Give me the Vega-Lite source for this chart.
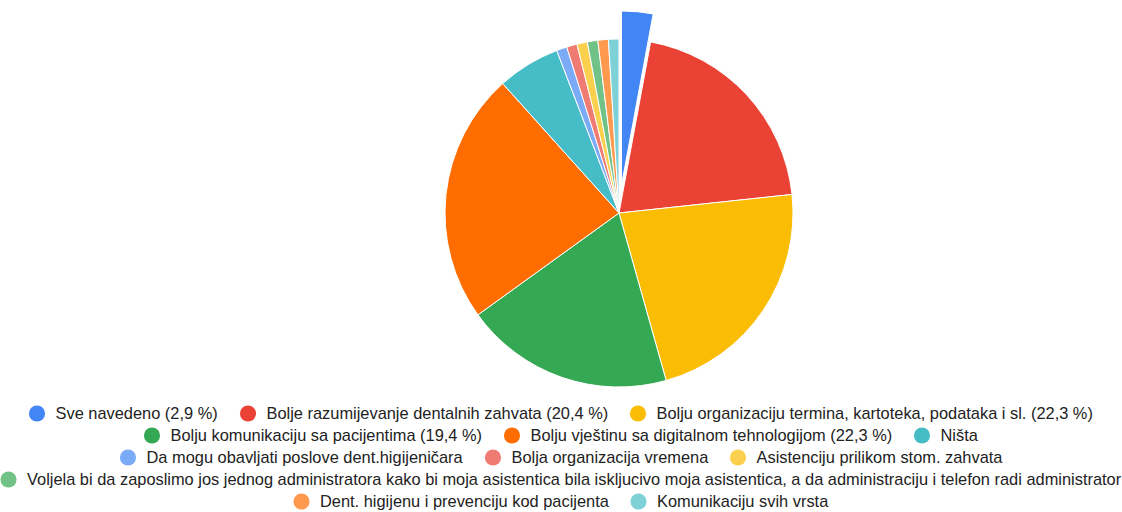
{
  "$schema": "https://vega.github.io/schema/vega-lite/v6.json",
  "width": 1122,
  "height": 348,
  "autosize": "none",
  "padding": {"top": 39, "left": 0, "right": 0, "bottom": 125},
  "background": "white",
  "data": {
    "values": [
      {"order": 1, "label": "Sve navedeno (2,9 %)", "n": 3},
      {"order": 2, "label": "Bolje razumijevanje dentalnih zahvata (20,4 %)", "n": 21},
      {"order": 3, "label": "Bolju organizaciju termina, kartoteka, podataka i sl. (22,3 %)", "n": 23},
      {"order": 4, "label": "Bolju komunikaciju sa pacijentima (19,4 %)", "n": 20},
      {"order": 5, "label": "Bolju vještinu sa digitalnom tehnologijom (22,3 %)", "n": 24},
      {"order": 6, "label": "Ništa", "n": 6},
      {"order": 7, "label": "Da mogu obavljati poslove dent.higijeničara", "n": 1},
      {"order": 8, "label": "Bolja organizacija vremena", "n": 1},
      {"order": 9, "label": "Asistenciju prilikom stom. zahvata", "n": 1},
      {"order": 10, "label": "Voljela bi da zaposlimo jos jednog administratora kako bi moja asistentica bila iskljucivo moja asistentica, a da administraciju i telefon radi administrator", "n": 1},
      {"order": 11, "label": "Dent. higijenu i prevenciju kod pacijenta", "n": 1},
      {"order": 12, "label": "Komunikaciju svih vrsta", "n": 1}
    ]
  },
  "transform": [
    {"stack": "n", "groupby": [], "sort": [{"field": "order", "order": "ascending"}], "as": ["s0", "s1"]}
  ],
  "encoding": {
    "theta": {"field": "s0", "type": "quantitative", "scale": {"domain": [0, 103]}},
    "theta2": {"field": "s1"}
  },
  "layer": [
    {
      "transform": [{"filter": {"field": "order", "oneOf": [1, 2, 3]}}],
      "encoding": {
        "color": {
          "field": "label", "type": "nominal",
          "sort": {"field": "order"},
          "scale": {
            "domain": ["Sve navedeno (2,9 %)", "Bolje razumijevanje dentalnih zahvata (20,4 %)", "Bolju organizaciju termina, kartoteka, podataka i sl. (22,3 %)"],
            "range": ["#4285F4", "#EA4335", "#FBBC04"]
          },
          "legend": {"title": null}
        }
      },
      "layer": [
        {
          "transform": [{"filter": {"field": "order", "equal": 1}}],
          "mark": {"type": "arc", "radius": 174, "stroke": "white", "strokeWidth": 1, "xOffset": 60.5, "yOffset": -28}
        },
        {
          "transform": [{"filter": {"field": "order", "oneOf": [2, 3]}}],
          "mark": {"type": "arc", "radius": 174, "stroke": "white", "strokeWidth": 1, "xOffset": 58}
        }
      ]
    },
    {
      "transform": [{"filter": {"field": "order", "oneOf": [4, 5, 6]}}],
      "mark": {"type": "arc", "radius": 174, "stroke": "white", "strokeWidth": 1, "xOffset": 58},
      "encoding": {
        "color": {
          "field": "label", "type": "nominal",
          "sort": {"field": "order"},
          "scale": {
            "domain": ["Bolju komunikaciju sa pacijentima (19,4 %)", "Bolju vještinu sa digitalnom tehnologijom (22,3 %)", "Ništa"],
            "range": ["#34A853", "#FF6D01", "#46BDC6"]
          },
          "legend": {"title": null}
        }
      }
    },
    {
      "transform": [{"filter": {"field": "order", "oneOf": [7, 8, 9]}}],
      "mark": {"type": "arc", "radius": 174, "stroke": "white", "strokeWidth": 1, "xOffset": 58},
      "encoding": {
        "color": {
          "field": "label", "type": "nominal",
          "sort": {"field": "order"},
          "scale": {
            "domain": ["Da mogu obavljati poslove dent.higijeničara", "Bolja organizacija vremena", "Asistenciju prilikom stom. zahvata"],
            "range": ["#7BAAF7", "#F07B72", "#FCD04F"]
          },
          "legend": {"title": null}
        }
      }
    },
    {
      "transform": [{"filter": {"field": "order", "equal": 10}}],
      "mark": {"type": "arc", "radius": 174, "stroke": "white", "strokeWidth": 1, "xOffset": 58},
      "encoding": {
        "color": {
          "field": "label", "type": "nominal",
          "scale": {
            "domain": ["Voljela bi da zaposlimo jos jednog administratora kako bi moja asistentica bila iskljucivo moja asistentica, a da administraciju i telefon radi administrator"],
            "range": ["#71C287"]
          },
          "legend": {"title": null}
        }
      }
    },
    {
      "transform": [{"filter": {"field": "order", "oneOf": [11, 12]}}],
      "mark": {"type": "arc", "radius": 174, "stroke": "white", "strokeWidth": 1, "xOffset": 58},
      "encoding": {
        "color": {
          "field": "label", "type": "nominal",
          "sort": {"field": "order"},
          "scale": {
            "domain": ["Dent. higijenu i prevenciju kod pacijenta", "Komunikaciju svih vrsta"],
            "range": ["#FF994D", "#7ED1D7"]
          },
          "legend": {"title": null}
        }
      }
    }
  ],
  "resolve": {"scale": {"color": "independent"}, "legend": {"color": "independent"}},
  "config": {
    "view": {"stroke": null},
    "legend": {
      "orient": "bottom",
      "direction": "horizontal",
      "offset": 18,
      "labelFont": "Liberation Sans",
      "labelFontSize": 16.4,
      "labelColor": "#222222",
      "labelOffset": 10,
      "labelLimit": 1400,
      "symbolType": "circle",
      "symbolSize": 260,
      "symbolStrokeWidth": 0,
      "symbolOpacity": 1,
      "columnPadding": 21,
      "layout": {"bottom": {"anchor": "middle", "direction": "vertical", "center": true, "margin": 5}}
    }
  }
}
